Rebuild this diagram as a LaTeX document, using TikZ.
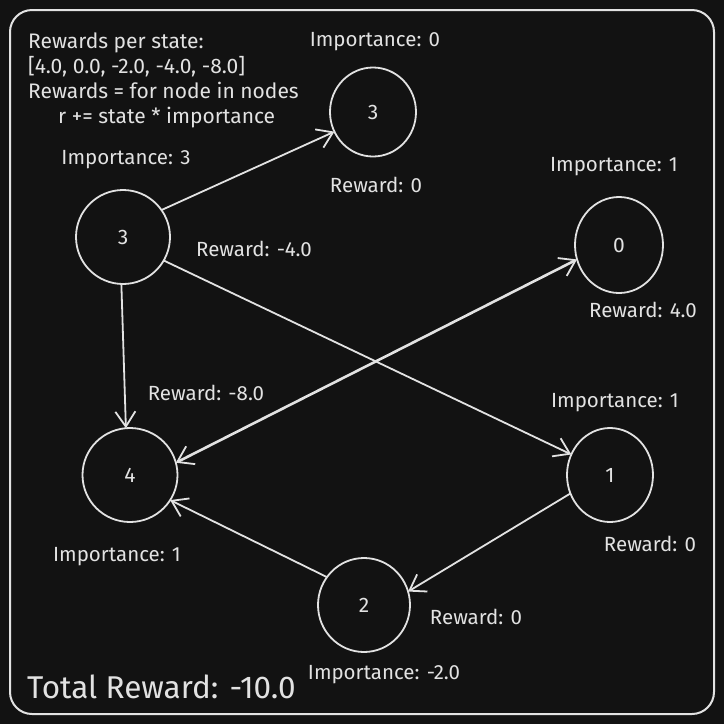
\documentclass[tikz,border=0pt]{standalone}
\usepackage{fontspec}
\setmainfont{Fira Sans}
\usetikzlibrary{shapes.geometric,arrows.meta}
\definecolor{bg}{HTML}{121212}
\definecolor{ink}{HTML}{E2E2E2}
\tikzset{
  state/.style={ellipse,draw=ink,line width=1.8pt,inner sep=0pt,outer sep=0pt,text=ink},
  digit/.style={font=\fontsize{21}{23}\selectfont},
  lbl/.style={text=ink,font=\fontsize{20.5}{24}\selectfont,inner sep=0pt},
  conn/.style={draw=ink,line width=1.8pt,-{Straight Barb[length=15pt,width=20pt,line width=1.8pt]}},
  biconn/.style={draw=ink,line width=2.6pt,{Straight Barb[length=15pt,width=20pt,line width=1.8pt]}-{Straight Barb[length=15pt,width=20pt,line width=1.8pt]}}
}
\begin{document}
\begin{tikzpicture}[x=1pt,y=-1pt]
\fill[bg] (0,0) rectangle (724,724);
\useasboundingbox (0,0) rectangle (724,724);
\draw[ink,line width=2pt,rounded corners=22pt] (10,10) rectangle (714,714);
% states
\node[state,digit,minimum width=86pt,minimum height=89pt] (n3t) at (373,112) {3};
\node[state,digit,minimum width=94pt,minimum height=94pt] (n3l) at (123,237) {3};
\node[state,digit,minimum width=88pt,minimum height=96pt] (n0) at (619,245) {0};
\node[state,digit,minimum width=86pt,minimum height=94pt] (n1) at (610,475) {1};
\node[state,digit,minimum width=95pt,minimum height=94pt] (n4) at (130,475) {4};
\node[state,digit,minimum width=92pt,minimum height=94pt] (n2) at (364,605) {2};
% connectors
\draw[conn] (n3l.35) -- (n3t.207);
\draw[conn] (n3l.-30) -- (n1.152);
\draw[conn] (n3l.268) -- (n4.95);
\draw[biconn] (n4.15) -- (n0.199);
\draw[conn] (n1.205) -- (n2.17);
\draw[conn] (n2.143) -- (n4.-32);
% labels
\node[lbl,anchor=north west,align=left,font=\fontsize{21}{25}\selectfont] (info) at (28,33) {Rewards per state:\\{}[4.0, 0.0, -2.0, -4.0, -8.0]\\Rewards = for node in nodes\\\hspace{30pt}r += state * importance};
\node[lbl] (i3t) at (375,42) {Importance: 0};
\node[lbl] (i3l) at (126,160) {Importance: 3};
\node[lbl] (r3t) at (376,185) {Reward: 0};
\node[lbl] (r3l) at (254,249) {Reward: -4.0};
\node[lbl] (i0) at (614,167) {Importance: 1};
\node[lbl] (r0) at (643,310) {Reward: 4.0};
\node[lbl] (r4) at (206,393) {Reward: -8.0};
\node[lbl] (i1) at (615,403) {Importance: 1};
\node[lbl] (r1) at (650,544) {Reward: 0};
\node[lbl] (i4) at (117,557) {Importance: 1};
\node[lbl] (r2) at (476,617) {Reward: 0};
\node[lbl] (i2) at (384,675) {Importance: -2.0};
\node[lbl,anchor=west,font=\fontsize{31.5}{34}\selectfont] (total) at (27,687) {Total Reward: -10.0};
\end{tikzpicture}
\end{document}
